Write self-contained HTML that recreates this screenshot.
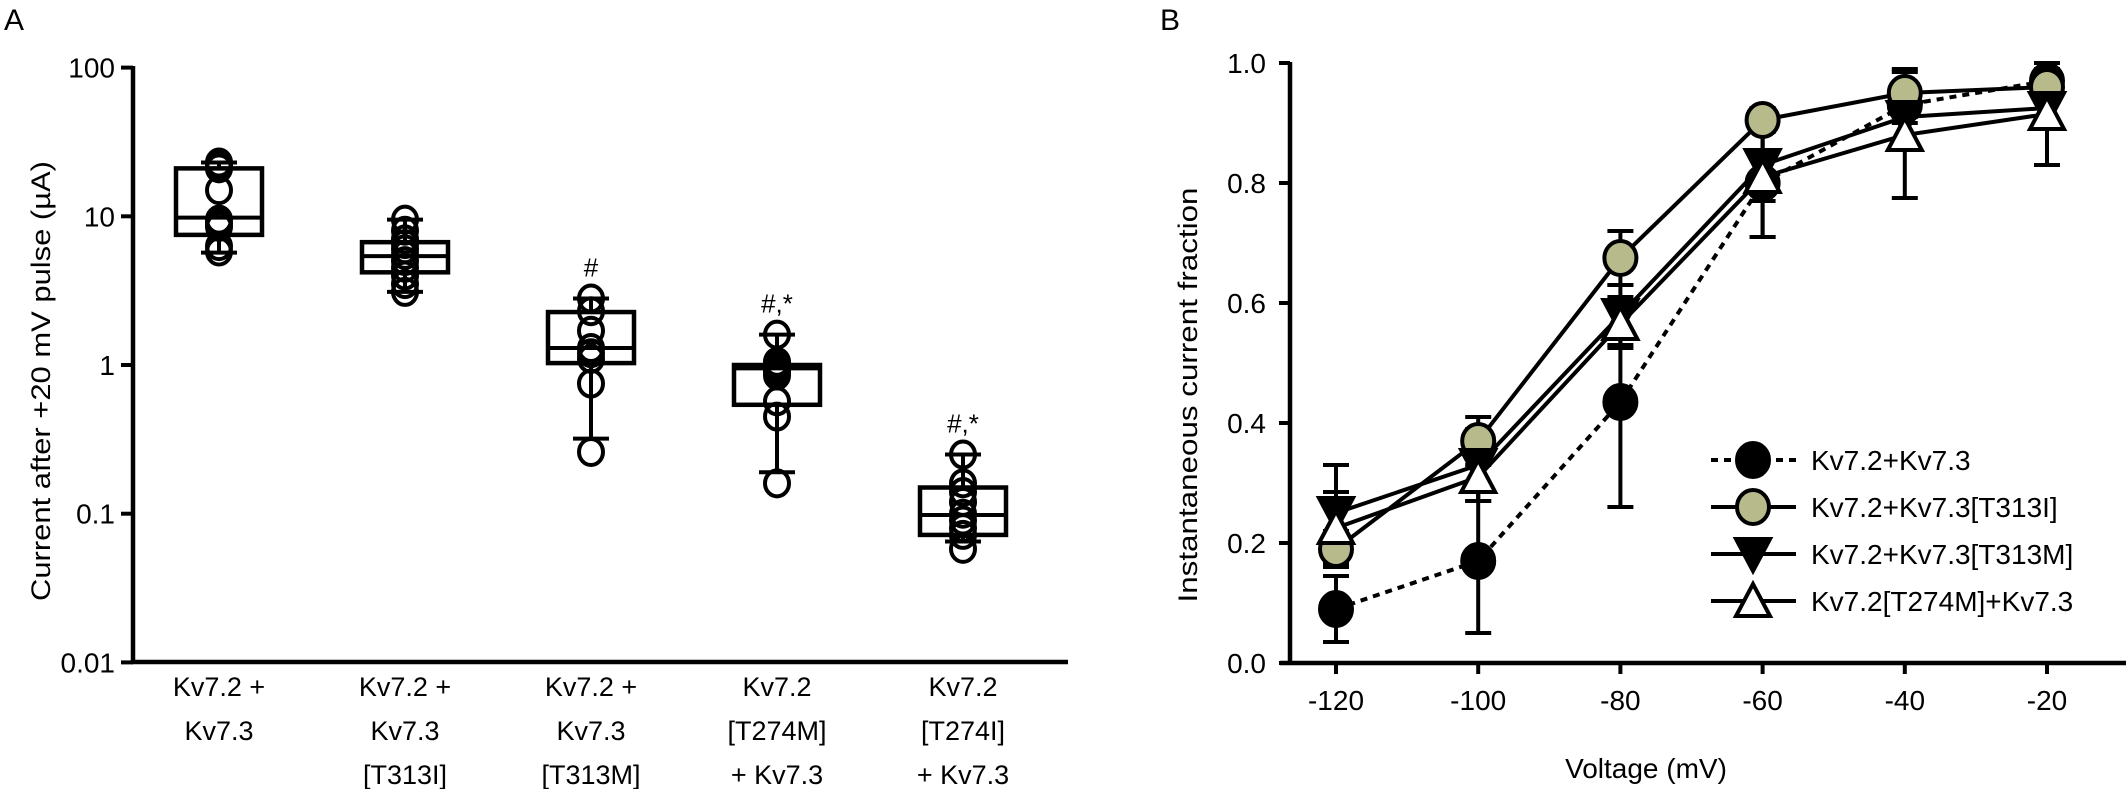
<!DOCTYPE html>
<html><head><meta charset="utf-8"><style>
html,body{margin:0;padding:0;background:#fff;}
svg{display:block;font-family:"Liberation Sans",sans-serif;}
</style></head><body>
<svg id="fig" width="2128" height="789" viewBox="0 0 2128 789" xmlns="http://www.w3.org/2000/svg">
<text x="4" y="30" font-size="30">A</text>
<text x="1160" y="30" font-size="30">B</text>
<g id="pa"></g>
<g id="pb"></g>
</svg>
<script>
// ---- Panel A data ----
const aCategories = [["Kv7.2 +","Kv7.3"],["Kv7.2 +","Kv7.3","[T313I]"],["Kv7.2 +","Kv7.3","[T313M]"],["Kv7.2","[T274M]","+ Kv7.3"],["Kv7.2","[T274I]","+ Kv7.3"]];
const aQ1 = [7.5, 4.2, 1.03, 0.54, 0.072];
const aMedian = [9.8, 5.4, 1.3, 0.95, 0.098];
const aQ3 = [21, 6.7, 2.27, 1.0, 0.15];
const aWhiskLo = [5.7, 3.1, 0.32, 0.19, 0.065];
const aWhiskHi = [23, 9.5, 2.8, 1.6, 0.25];
const aPoints = [
  [23,22,21,15,9.5,9,8.5,6.3,5.8],
  [9.5,8,7,6.5,6,5.5,5,4.5,4,3.5,3.1],
  [2.8,2.3,1.7,1.3,1.2,1.1,0.75,0.26],
  [1.6,1.05,1.0,0.95,0.9,0.85,0.57,0.45,0.16],
  [0.25,0.16,0.14,0.12,0.10,0.09,0.08,0.072,0.058]
];
const aSig = ["", "", "#", "#,*", "#,*"];
const aTicks = [100,10,1,0.1,0.01];
const aTickLabels = ["100","10","1","0.1","0.01"];

// ---- Panel B data ----
const bVoltages = [-120,-100,-80,-60,-40,-20];
const bTicks = [0,0.2,0.4,0.6,0.8,1.0];
const bTickLabels = ["0.0","0.2","0.4","0.6","0.8","1.0"];
const bNames = ["Kv7.2+Kv7.3","Kv7.2+Kv7.3[T313I]","Kv7.2+Kv7.3[T313M]","Kv7.2[T274M]+Kv7.3"];
const sWT = [0.09,0.17,0.435,0.80,0.93,0.97];
const eWT = [0.055,0.12,0.175,0.09,0.03,0.02];
const sT313I = [0.19,0.37,0.675,0.905,0.95,0.96];
const eT313I = [0.03,0.04,0.045,0.02,0.04,0.02];
const sT313M = [0.25,0.33,0.58,0.83,0.91,0.925];
const eT313M = [0.08,0.06,0.05,0.06,0.04,0.03];
const sT274M = [0.225,0.31,0.565,0.81,0.88,0.915];
const eT274M = [0.06,0.04,0.04,0.10,0.105,0.085];

const NS="http://www.w3.org/2000/svg";
function mk(tag,attrs,parent,txt){const e=document.createElementNS(NS,tag);for(const k in attrs)e.setAttribute(k,attrs[k]);if(txt!==undefined)e.textContent=txt;parent.appendChild(e);return e;}

// Panel A
const pa=document.getElementById('pa');
const ay=v=>365-148.7*Math.log10(v);
const ax=i=>219+i*186;
let e;
e=mk('line',{x1:133,y1:66,x2:133,y2:662,stroke:'#000','stroke-width':4.5},pa);


e=mk('line',{x1:131,y1:662,x2:1068,y2:662,stroke:'#000','stroke-width':4.5},pa);


aTicks.forEach((t,i)=>{
  mk('line',{x1:121,y1:ay(t),x2:133,y2:ay(t),stroke:'#000','stroke-width':4},pa);
  e=mk('text',{x:115,y:ay(t)+10,'font-size':28,'text-anchor':'end'},pa,aTickLabels[i]);
  
  
});
e=mk('text',{x:0,y:0,'font-size':27,'text-anchor':'middle',transform:'translate(50,381) rotate(-90)',textLength:440,lengthAdjust:'spacingAndGlyphs'},pa,"Current after +20 mV pulse (µA)");


aCategories.forEach((lines,i)=>{
  const g=mk('g',{},pa);
  
  
  const x=ax(i);
  mk('line',{x1:x,y1:ay(aWhiskHi[i]),x2:x,y2:ay(aWhiskLo[i]),stroke:'#000','stroke-width':4},g);
  mk('line',{x1:x-18,y1:ay(aWhiskHi[i]),x2:x+18,y2:ay(aWhiskHi[i]),stroke:'#000','stroke-width':4},g);
  mk('line',{x1:x-18,y1:ay(aWhiskLo[i]),x2:x+18,y2:ay(aWhiskLo[i]),stroke:'#000','stroke-width':4},g);
  e=mk('rect',{x:x-43,y:ay(aQ3[i]),width:86,height:ay(aQ1[i])-ay(aQ3[i]),fill:'#fff',stroke:'#000','stroke-width':4.5},g);
  
  
  mk('line',{x1:x-43,y1:ay(aMedian[i]),x2:x+43,y2:ay(aMedian[i]),stroke:'#000','stroke-width':4},g);
  aPoints[i].forEach(v=>{
    e=mk('ellipse',{cx:x,cy:ay(v),rx:12,ry:13,fill:'none',stroke:'#000','stroke-width':4},g);
    
    
  });
  if(aSig[i]){
    e=mk('text',{x:x,y:ay(aWhiskHi[i])-22,'font-size':26,'text-anchor':'middle'},g,aSig[i]);
    
    
  }
  lines.forEach((l,j)=>{
    e=mk('text',{x:x,y:696+j*44,'font-size':27,'text-anchor':'middle'},g,l);
    
    
  });
});

// Panel B
const pb=document.getElementById('pb');
const bx=v=>1336+(v+120)*7.11;
const by=v=>663-v*600;
e=mk('line',{x1:1290,y1:62,x2:1290,y2:663,stroke:'#000','stroke-width':4.5},pb);


e=mk('line',{x1:1280,y1:663,x2:2126,y2:663,stroke:'#000','stroke-width':4.5},pb);


bTicks.forEach((t,i)=>{
  mk('line',{x1:1279,y1:by(t),x2:1290,y2:by(t),stroke:'#000','stroke-width':4},pb);
  e=mk('text',{x:1266,y:by(t)+10,'font-size':28,'text-anchor':'end'},pb,bTickLabels[i]);
  
  
});
bVoltages.forEach(v=>{
  mk('line',{x1:bx(v),y1:663,x2:bx(v),y2:674,stroke:'#000','stroke-width':4},pb);
  e=mk('text',{x:bx(v),y:710,'font-size':28,'text-anchor':'middle'},pb,String(v));
  
  
});
e=mk('text',{x:1646,y:778,'font-size':28,'text-anchor':'middle'},pb,"Voltage (mV)");


e=mk('text',{x:0,y:0,'font-size':27,'text-anchor':'middle',transform:'translate(1197,395) rotate(-90)',textLength:415,lengthAdjust:'spacingAndGlyphs'},pb,"Instantaneous current fraction");



const series=[
  {v:sWT,e:eWT,marker:'circle',fill:'#000',dash:'7,6'},
  {v:sT313I,e:eT313I,marker:'circle',fill:'#b7bb8b',dash:''},
  {v:sT313M,e:eT313M,marker:'down',fill:'#000',dash:''},
  {v:sT274M,e:eT274M,marker:'up',fill:'#fff',dash:''}
];
function marker(g,kind,x,y,fill){
  if(kind==='circle') return mk('ellipse',{cx:x,cy:y,rx:16,ry:17,fill:fill,stroke:'#000','stroke-width':4},g);
  if(kind==='down') return mk('polygon',{points:`${x-17},${y-15} ${x+17},${y-15} ${x},${y+17}`,fill:fill,stroke:'#000','stroke-width':4,'stroke-linejoin':'miter'},g);
  return mk('polygon',{points:`${x-17},${y+15} ${x+17},${y+15} ${x},${y-17}`,fill:fill,stroke:'#000','stroke-width':4},g);
}
// error bars first
series.forEach((s,si)=>{
  const g=mk('g',{},pb);
  
  
  bVoltages.forEach((v,i)=>{
    const x=bx(v),y1=by(s.v[i]+s.e[i]),y2=by(s.v[i]-s.e[i]);
    mk('line',{x1:x,y1:y1,x2:x,y2:y2,stroke:'#000','stroke-width':4},g);
    mk('line',{x1:x-13,y1:y1,x2:x+13,y2:y1,stroke:'#000','stroke-width':4},g);
    mk('line',{x1:x-13,y1:y2,x2:x+13,y2:y2,stroke:'#000','stroke-width':4},g);
  });
});
series.forEach((s,si)=>{
  const g=mk('g',{},pb);
  
  
  const pts=bVoltages.map((v,i)=>bx(v)+','+by(s.v[i])).join(' ');
  const l=mk('polyline',{points:pts,fill:'none',stroke:'#000','stroke-width':4,'stroke-dasharray':s.dash},g);
  
  
  bVoltages.forEach((v,i)=>{
    const m=marker(g,s.marker,bx(v),by(s.v[i]),s.fill);
    
    
  });
});
// legend
const lg=mk('g',{},pb);


const legY=[460,507,554,601];
series.forEach((s,si)=>{
  const g=mk('g',{},lg);
  
  
  const y=legY[si];
  mk('line',{x1:1711,y1:y,x2:1796,y2:y,stroke:'#000','stroke-width':4,'stroke-dasharray':s.dash},g);
  marker(g,s.marker,1753,y,s.fill);
  mk('text',{x:1811,y:y+10,'font-size':28},g,bNames[si]);
});
</script>
</body></html>
